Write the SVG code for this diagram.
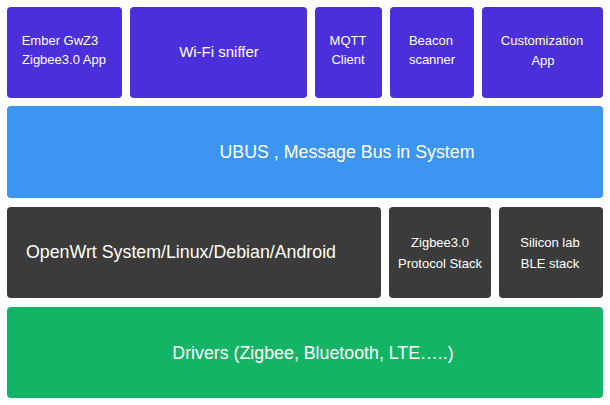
<svg xmlns="http://www.w3.org/2000/svg" width="610" height="405" viewBox="0 0 610 405">
<style>
.p{fill:#4b2fdb}.b{fill:#3d95f2}.d{fill:#3b3b3b}.g{fill:#14b467}
text{font-family:"Liberation Sans",Arial,sans-serif;fill:#fff;text-anchor:middle}
.s{font-size:13px}.l{font-size:17.8px}.m{font-size:15px}
</style>
<rect width="610" height="405" fill="#fff"/>
<g id="ember"><rect class="p" x="7" y="7" width="115" height="91" rx="4"/><text class="s" x="60" y="45">Ember GwZ3</text><text class="s" x="64" y="64">Zigbee3.0 App</text></g>
<g id="wifi"><rect class="p" x="130" y="7" width="177" height="91" rx="4"/><text class="m" x="219" y="57">Wi-Fi sniffer</text></g>
<g id="mqtt"><rect class="p" x="315" y="7" width="67" height="91" rx="4"/><text class="s" x="348" y="45">MQTT</text><text class="s" x="348" y="64">Client</text></g>
<g id="beacon"><rect class="p" x="390" y="7" width="84" height="91" rx="4"/><text class="s" x="431" y="45">Beacon</text><text class="s" x="432" y="64">scanner</text></g>
<g id="custom"><rect class="p" x="482" y="7" width="121" height="91" rx="4"/><text class="s" x="542" y="45">Customization</text><text class="s" x="543" y="65">App</text></g>
<g id="ubus"><rect class="b" x="7" y="106" width="596" height="92" rx="4"/><text class="l" x="347" y="158">UBUS , Message Bus in System</text></g>
<g id="openwrt"><rect class="d" x="7" y="207" width="374" height="91" rx="4"/><text class="l" x="181" y="258">OpenWrt System/Linux/Debian/Android</text></g>
<g id="zigbee"><rect class="d" x="389" y="207" width="102" height="91" rx="4"/><text class="s" x="440" y="247">Zigbee3.0</text><text class="s" x="440" y="268">Protocol Stack</text></g>
<g id="ble"><rect class="d" x="499" y="207" width="104" height="91" rx="4"/><text class="s" x="550" y="247">Silicon lab</text><text class="s" x="550" y="268">BLE stack</text></g>
<g id="drivers"><rect class="g" x="7" y="307" width="596" height="91" rx="4"/><text class="l" x="313" y="359">Drivers (Zigbee, Bluetooth, LTE…..)</text></g>
<g id="connectors"/>
</svg>
